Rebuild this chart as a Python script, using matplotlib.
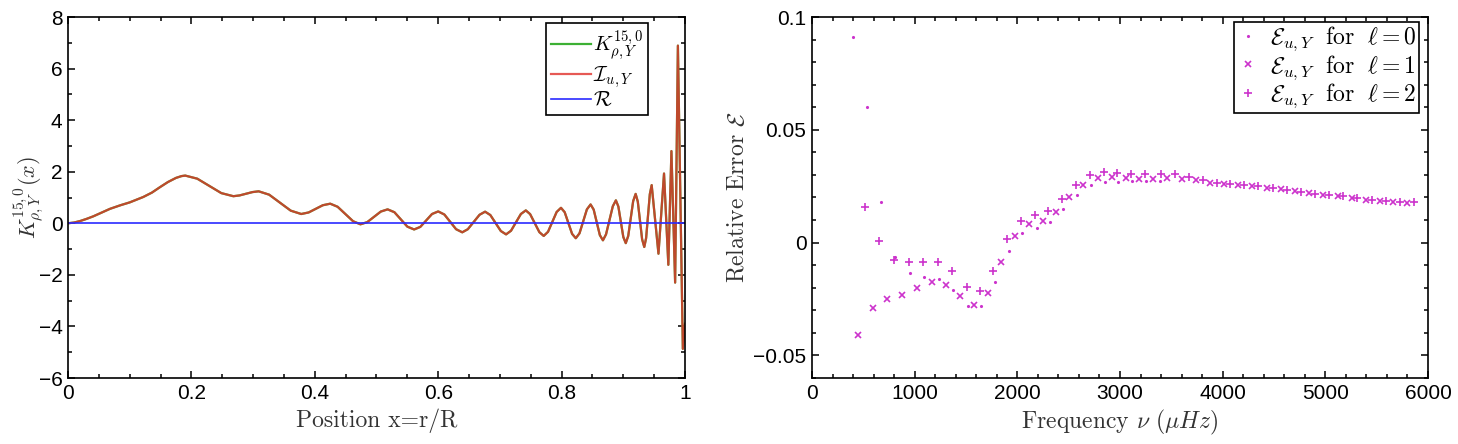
import numpy as np
import matplotlib
matplotlib.use("Agg")
import matplotlib.pyplot as plt
from matplotlib.ticker import MultipleLocator

plt.rcParams['font.family'] = ['Liberation Sans', 'DejaVu Sans']
plt.rcParams['mathtext.fontset'] = 'cm'

# left panel: kernel K and its approximation I (same curve), residual R
pos_x = [0.000, 0.010, 0.020, 0.030, 0.041, 0.055, 0.068, 0.085, 0.100, 0.122, 0.136, 0.149, 0.162, 0.175, 0.184, 0.190,
         0.2095, 0.229, 0.2485, 0.268, 0.278, 0.2885, 0.299, 0.309, 0.326, 0.3435, 0.361, 0.378,
         0.390, 0.4015, 0.413, 0.425, 0.437, 0.4495, 0.462, 0.474, 0.485, 0.496, 0.507, 0.518,
         0.529, 0.5395, 0.550, 0.561, 0.571, 0.5805, 0.590, 0.600, 0.610, 0.6195, 0.629, 0.639,
         0.648, 0.6575, 0.667, 0.676, 0.6845, 0.693, 0.7015, 0.710, 0.718, 0.726, 0.734, 0.742,
         0.749, 0.7565, 0.764, 0.771, 0.778, 0.785, 0.792, 0.799, 0.805, 0.811, 0.817, 0.823,
         0.829, 0.835, 0.841, 0.847, 0.852, 0.857, 0.862, 0.867, 0.872, 0.8775, 0.883, 0.888,
         0.892, 0.896, 0.900, 0.904, 0.908, 0.912, 0.916, 0.920, 0.9235, 0.927, 0.9305, 0.934,
         0.937, 0.940, 0.943, 0.946, 0.9515, 0.957, 0.9615, 0.966, 0.9695, 0.973, 0.9755, 0.978,
         0.981, 0.984, 0.9885, 0.9965, 1.000]
kernel = [0.00, 0.03, 0.09, 0.17, 0.27, 0.42, 0.56, 0.70, 0.81, 1.02, 1.19, 1.40, 1.60, 1.76, 1.83, 1.85,
          1.73, 1.45, 1.17, 1.05, 1.08, 1.145, 1.21, 1.24, 1.11, 0.80, 0.49, 0.36,
          0.42, 0.56, 0.70, 0.76, 0.64, 0.36, 0.08, -0.04, 0.045, 0.25, 0.455, 0.54,
          0.43, 0.15, -0.13, -0.24, -0.14, 0.11, 0.36, 0.46, 0.34, 0.055, -0.23, -0.35,
          -0.23, 0.05, 0.33, 0.45, 0.32, 0.01, -0.30, -0.43, -0.29, 0.035, 0.36, 0.50,
          0.355, 0.005, -0.345, -0.49, -0.33, 0.055, 0.44, 0.60, 0.43, 0.01, -0.41, -0.58,
          -0.39, 0.075, 0.54, 0.73, 0.53, 0.035, -0.46, -0.66, -0.43, 0.115, 0.66, 0.89,
          0.65, 0.06, -0.53, -0.77, -0.49, 0.185, 0.86, 1.14, 0.84, 0.11, -0.62, -0.92,
          -0.57, 0.28, 1.13, 1.48, 0.15, -1.18, 0.375, 1.93, 0.16, -1.61, 0.60, 2.80,
          0.25, -2.30, 6.89, -4.87, -3.90]
approx = list(kernel)
resid = [0.0] * len(pos_x)

# right panel: relative error per degree l
nu_l0 = [402, 533, 672, 808, 955, 1094, 1240, 1377, 1516, 1646, 1782, 1919, 2048, 2188, 2318, 2448, 2584, 2714,
         2850, 2985, 3120, 3255, 3390]
err_l0 = [0.0913, 0.0603, 0.0178, -0.0062, -0.0135, -0.0153, -0.0162, -0.0209, -0.0280, -0.0280, -0.0175, -0.0037,
          0.0041, 0.0066, 0.0093, 0.0149, 0.0213, 0.0255, 0.0270, 0.0270, 0.0275, 0.0275, 0.0275]

nu_l1 = [445, 591, 734, 880, 1020, 1166, 1302, 1442, 1578, 1711, 1841, 1977, 2114, 2247, 2377, 2506, 2642, 2783,
         2919, 3055, 3189, 3325, 3461, 3601, 3740, 3877, 4016, 4152, 4289, 4429, 4568, 4705, 4844, 4980, 5120,
         5257, 5396, 5532, 5662, 5798]
err_l1 = [-0.0410, -0.0290, -0.0249, -0.0231, -0.0203, -0.0175, -0.0187, -0.0235, -0.0278, -0.0225, -0.0087, 0.0030,
          0.0081, 0.0098, 0.0137, 0.0203, 0.0257, 0.0287, 0.0291, 0.0287, 0.0284, 0.0284, 0.0287, 0.0284, 0.0277,
          0.0266, 0.0262, 0.0255, 0.0250, 0.0244, 0.0237, 0.0228, 0.0218, 0.0210, 0.0207, 0.0196, 0.0188, 0.0184,
          0.0181, 0.0177]

nu_l2 = [516, 652, 802, 945, 1085, 1230, 1367, 1507, 1636, 1766, 1902, 2033, 2172, 2302, 2438, 2568, 2708, 2844,
         2975, 3111, 3247, 3395, 3536, 3675, 3805, 3942, 4071, 4211, 4347, 4487, 4624, 4760, 4899, 5039, 5175,
         5311, 5451, 5591, 5727, 5863]
err_l2 = [0.0156, 0.0009, -0.0079, -0.0088, -0.0084, -0.0084, -0.0125, -0.0197, -0.0213, -0.0124, 0.0015, 0.0097,
          0.0122, 0.0141, 0.0193, 0.0255, 0.0299, 0.0313, 0.0310, 0.0306, 0.0306, 0.0302, 0.0303, 0.0291, 0.0279,
          0.0266, 0.0259, 0.0255, 0.0250, 0.0243, 0.0235, 0.0225, 0.0215, 0.0210, 0.0207, 0.0199, 0.0191, 0.0184,
          0.0181, 0.0178]

fig = plt.figure(figsize=(14.58, 4.44), dpi=100)
ax1 = fig.add_axes([68/1458, 1-378/444, 617/1458, 361/444])
ax2 = fig.add_axes([812/1458, 1-378/444, 616/1458, 361/444])

ax1.plot(pos_x, kernel, color='#3cb034', lw=1.6, label=r'$K^{15,0}_{\rho,Y}$')
ax1.plot(pos_x, approx, color='#e0302a', lw=1.6, alpha=0.8, label=r'$\mathcal{I}_{u,Y}$')
ax1.plot(pos_x, resid, color='#2a2aff', lw=1.2, label=r'$\mathcal{R}$')
ax1.set_xlim(0, 1)
ax1.set_ylim(-6, 8)
ax1.xaxis.set_minor_locator(MultipleLocator(0.05))
ax1.yaxis.set_minor_locator(MultipleLocator(1))
ax1.set_xticks([0, 0.2, 0.4, 0.6, 0.8, 1.0])
ax1.set_xticklabels(['0', '0.2', '0.4', '0.6', '0.8', '1'])
ax1.set_yticks([-6, -4, -2, 0, 2, 4, 6, 8])
ax1.set_yticklabels(['\u22126', '\u22124', '\u22122', '0', '2', '4', '6', '8'])
ax1.set_xlabel('Position x=r/R', fontsize=17, family='cmr10', color='#333333', labelpad=4)
ax1.set_ylabel(r'$K^{15,0}_{\rho,Y}(x)$', fontsize=16, color='#333333', labelpad=-5)
leg1 = ax1.legend(loc='upper right', bbox_to_anchor=(0.94, 0.983), fontsize=15, handlelength=1.9,
                  handletextpad=0.1, borderpad=0.25, labelspacing=0.05, fancybox=False, framealpha=1,
                  edgecolor='black', borderaxespad=0)
leg1.get_frame().set_linewidth(1.2)

ax2.plot(nu_l0, err_l0, '.', color='#cc33cc', ms=2.5, label=r'$\mathcal{E}_{u,Y}\ \ \mathrm{for}\ \ \ell=0$')
ax2.plot(nu_l1, err_l1, 'x', color='#cc33cc', ms=4, mew=1.2, label=r'$\mathcal{E}_{u,Y}\ \ \mathrm{for}\ \ \ell=1$')
ax2.plot(nu_l2, err_l2, '+', color='#cc33cc', ms=6, mew=1.2, label=r'$\mathcal{E}_{u,Y}\ \ \mathrm{for}\ \ \ell=2$')
ax2.set_xlim(0, 6000)
ax2.set_ylim(-0.06, 0.1)
ax2.xaxis.set_major_locator(MultipleLocator(1000))
ax2.xaxis.set_minor_locator(MultipleLocator(200))
ax2.yaxis.set_minor_locator(MultipleLocator(0.01))
ax2.set_yticks([-0.05, 0, 0.05, 0.1])
ax2.set_yticklabels(['\u22120.05', '0', '0.05', '0.1'])
ax2.set_xlabel(r'Frequency $\nu$ $(\mu Hz)$', fontsize=17, family='cmr10', color='#333333', labelpad=4)
ax2.set_ylabel(r'Relative Error $\mathcal{E}$', fontsize=17, family='cmr10', color='#333333', labelpad=3)
leg2 = ax2.legend(loc='upper right', bbox_to_anchor=(0.985, 0.986), fontsize=17, handlelength=1.0,
                  handletextpad=0.4, borderpad=0.1, labelspacing=0.0, fancybox=False, framealpha=1,
                  edgecolor='black', borderaxespad=0)
leg2.get_frame().set_linewidth(1.2)

for ax in (ax1, ax2):
    ax.tick_params(which='both', direction='in', top=True, right=True, labelsize=15, width=1.1)
    ax.tick_params(which='major', length=5, pad=4)
    ax.tick_params(which='minor', length=3)
    for s in ax.spines.values():
        s.set_linewidth(1.2)

fig.savefig('out.png', dpi=100)
